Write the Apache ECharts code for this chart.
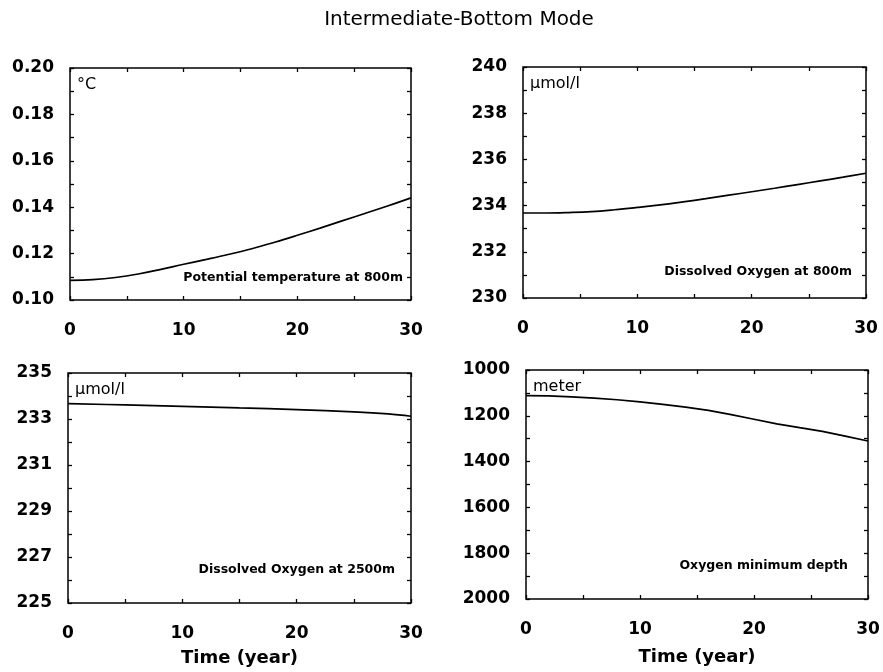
<!DOCTYPE html>
<html>
<head>
<meta charset="utf-8">
<script src="https://cdn.jsdelivr.net/npm/echarts@6/dist/echarts.min.js"></script>
<style>
html,body{margin:0;padding:0;background:#fff;}
#chart{width:883px;height:672px;}
</style>
</head>
<body>
<div id="chart"></div>
<script>
// ---- data ----
const chartTitle = 'Intermediate-Bottom Mode';
const xName = 'Time (year)';

const yearsA = [0, 2, 4, 6, 8, 10, 12, 14, 16, 18, 20, 22, 24, 26, 28, 30];
const temp800 = [0.1085, 0.1088, 0.1097, 0.1112, 0.1132, 0.1154, 0.1175, 0.1197, 0.1221, 0.1249, 0.1279, 0.1310, 0.1342, 0.1374, 0.1406, 0.1440];
const oxy800 = [233.68, 233.68, 233.70, 233.74, 233.82, 233.92, 234.03, 234.16, 234.30, 234.45, 234.60, 234.75, 234.91, 235.07, 235.23, 235.40];

const yearsB = [0, 5, 10, 15, 20, 25, 28, 30];
const oxy2500 = [233.67, 233.61, 233.55, 233.48, 233.41, 233.31, 233.22, 233.12];

const oxyMinDepth = [1112, 1113, 1117, 1123, 1130, 1139, 1150, 1162, 1176, 1195, 1215, 1235, 1252, 1268, 1289, 1310];

const panelUnits = ['\u00B0C', '\u00B5mol/l', '\u00B5mol/l', 'meter'];
const panelNotes = ['Potential temperature at 800m', 'Dissolved Oxygen at 800m', 'Dissolved Oxygen at 2500m', 'Oxygen minimum depth'];

// ---- layout ----
const FONT = 'DejaVu Sans';
const grids = [
  { left: 70, top: 68, width: 341, height: 232 },
  { left: 523, top: 67, width: 343, height: 231 },
  { left: 68, top: 373, width: 343, height: 230 },
  { left: 526, top: 370, width: 342, height: 229 }
];
const yCfg = [
  { min: 0.10, max: 0.20, interval: 0.02, fmt: v => v.toFixed(2) },
  { min: 230, max: 240, interval: 2, fmt: v => String(Math.round(v)) },
  { min: 225, max: 235, interval: 2, fmt: v => String(Math.round(v)) },
  { min: 1000, max: 2000, interval: 200, inverse: true, fmt: v => String(Math.round(v)) }
];
const seriesData = [
  yearsA.map((t, i) => [t, temp800[i]]),
  yearsA.map((t, i) => [t, oxy800[i]]),
  yearsB.map((t, i) => [t, oxy2500[i]]),
  yearsA.map((t, i) => [t, oxyMinDepth[i]])
];

const tickStyle = { show: true, inside: true, length: 4, lineStyle: { color: '#000', width: 1.3 } };
const minorStyle = { show: true, splitNumber: 2, length: 4, lineStyle: { color: '#000', width: 1.3 } };
const labelFont = { fontFamily: FONT, fontSize: 17, fontWeight: 'bold', color: '#000' };
const noLine = { show: false, onZero: false };

const option = { animation: false, grid: [], xAxis: [], yAxis: [], series: [], graphic: [] };

grids.forEach((g, i) => {
  option.grid.push(Object.assign({ show: true, borderColor: '#000', borderWidth: 1.5, backgroundColor: 'transparent' }, g));
  const isBottom = i >= 2;
  const xBase = {
    type: 'value', gridIndex: i, min: 0, max: 30, interval: 10,
    axisLine: noLine, axisTick: tickStyle, minorTick: minorStyle,
    splitLine: { show: false }, minorSplitLine: { show: false }
  };
  option.xAxis.push(Object.assign({}, xBase, {
    position: 'bottom',
    axisLabel: Object.assign({ margin: 22, hideOverlap: false, showMinLabel: true, showMaxLabel: true }, labelFont),
    name: isBottom ? xName : '', nameLocation: 'middle', nameGap: i === 3 ? 49 : 46,
    nameTextStyle: { fontFamily: FONT, fontSize: 18, fontWeight: 'bold', color: '#000' }
  }));
  option.xAxis.push(Object.assign({}, xBase, { position: 'top', axisLabel: { show: false } }));
  const y = yCfg[i];
  const yBase = {
    type: 'value', gridIndex: i, min: y.min, max: y.max, interval: y.interval, inverse: !!y.inverse,
    axisLine: noLine, axisTick: tickStyle, minorTick: minorStyle,
    splitLine: { show: false }, minorSplitLine: { show: false }
  };
  option.yAxis.push(Object.assign({}, yBase, {
    position: 'left',
    axisLabel: Object.assign({ margin: 16, hideOverlap: false, showMinLabel: true, showMaxLabel: true, formatter: y.fmt }, labelFont)
  }));
  option.yAxis.push(Object.assign({}, yBase, { position: 'right', axisLabel: { show: false } }));
  option.series.push({
    type: 'line', xAxisIndex: i * 2, yAxisIndex: i * 2, data: seriesData[i],
    smooth: i === 3 ? false : 0.4, showSymbol: false, symbol: 'none',
    lineStyle: { color: '#000', width: 1.7 }
  });
  option.graphic.push({
    type: 'text', left: g.left + 7, top: g.top + 9,
    style: { text: panelUnits[i], fontFamily: FONT, fontSize: 16, fill: '#000' }
  });
});

const notePos = [
  { x: 403, y: 278 },
  { x: 852, y: 272 },
  { x: 395, y: 570 },
  { x: 848, y: 566 }
];
panelNotes.forEach((t, i) => {
  option.graphic.push({
    type: 'text', x: notePos[i].x, y: notePos[i].y,
    style: { text: t, fontFamily: FONT, fontSize: 12.5, fontWeight: 'bold', fill: '#000', align: 'right', verticalAlign: 'middle' }
  });
});
option.graphic.push({
  type: 'text', x: 459, y: 20,
  style: { text: chartTitle, fontFamily: FONT, fontSize: 20, fill: '#000', align: 'center', verticalAlign: 'middle' }
});

const chart = echarts.init(document.getElementById('chart'), null, { renderer: 'canvas' });
chart.setOption(option);
</script>
</body>
</html>
